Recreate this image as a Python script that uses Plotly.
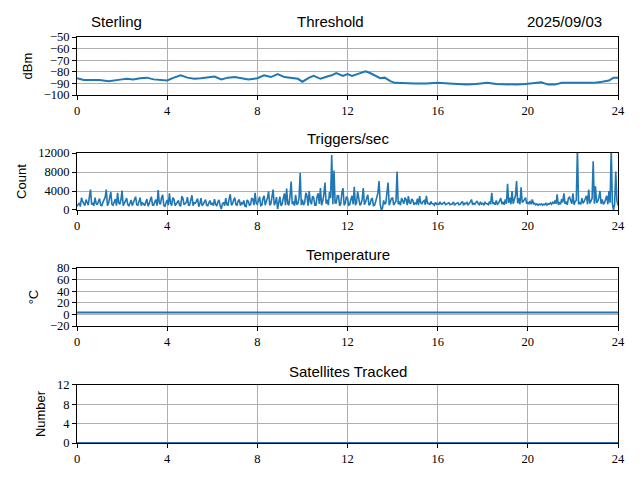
import plotly.graph_objects as go
from plotly.subplots import make_subplots

# --- data (hours of the day) ---
thr_hours = [0, 0.3, 0.6, 1.0, 1.4, 1.7, 2.0, 2.2, 2.5, 2.8, 3.1, 3.4, 3.7, 4.0,
             4.3, 4.6, 4.9, 5.2, 5.5, 5.8, 6.1, 6.4, 6.7, 7.0, 7.3, 7.6, 8.0,
             8.3, 8.6, 8.9, 9.2, 9.5, 9.8, 10.0, 10.3, 10.5, 10.8, 11.1, 11.3,
             11.5, 11.8, 12.0, 12.2, 12.5, 12.8, 13.0, 13.2, 13.45, 13.65, 13.9,
             14.1, 14.5, 15.0, 15.5, 16.0, 16.5, 17.0, 17.3, 17.7, 18.2, 18.6,
             19.1, 19.5, 19.9, 20.3, 20.6, 20.9, 21.2, 21.5, 22.0, 22.5, 22.9,
             23.3, 23.6, 23.8, 24.0]
thr_dbm = [-85.5, -87, -87, -87, -88, -87.5, -86.5, -86, -86.5, -85.5, -85,
           -86.5, -87, -87.5, -85, -83, -85, -86, -85.5, -84.5, -84, -86.5, -85,
           -84.5, -85.5, -86.5, -85.5, -83, -84.5, -82, -84.5, -85.5, -86, -88.5,
           -85, -83.5, -86, -84, -83, -81, -83.5, -82, -83.5, -81.5, -79.5, -81,
           -83, -85.5, -85, -88, -89.5, -90, -90, -90, -89.5, -90, -90.5, -91,
           -90.5, -89.5, -90.5, -91, -91, -90.5, -89.5, -89, -91, -91, -89.5,
           -89.5, -89, -89.5, -88.5, -87.5, -85, -85]

# triggers: samples on the tenth of an hour, plus the samples between them
trig_count = [
    800, 1500, 2600, 1200, 2200, 1000, 4300, 1500, 2600, 1100,
    2400, 900, 2000, 4300, 1400, 3800, 1000, 2300, 3600, 1200,
    4100, 1300, 2500, 800, 2100, 1400, 2800, 1000, 2600, 1500,
    900, 2300, 1200, 2800, 1000, 2200, 4200, 1200, 3200, 700,
    2100, 3500, 900, 2300, 1300, 2000, 800, 2400, 1400, 2700,
    1100, 3100, 1500, 1900, 700, 2500, 1200, 2200, 900, 2000,
    1500, 2300, 800, 2100, 200, 1600, 2500, 1000, 3300, 1300,
    2600, 1000, 2200, 1500, 2000, 700, 1800, 1100, 2300, 3600,
    1200, 2800, 1000, 3000, 1600, 3900, 1300, 4300, 1500, 200,
    2800, 1200, 3500, 4500, 1000, 6000, 1800, 3200, 1400, 7800,
    2200, 1500, 3000, 4000, 1200, 2600, 1000, 3500, 4600, 1800,
    5800, 2200, 3800, 11600, 8300, 1500, 3000, 1200, 4600, 1400,
    2500, 1100, 3000, 4900, 1500, 2800, 1300, 4600, 1700, 3200,
    1200, 2500, 1000, 2800, 6100, 0, 2000, 1500, 5800, 1800,
    2600, 1500, 8100, 1800, 2500, 1300, 2200, 2900, 1400, 2000,
    1500, 2400, 2900, 1300, 2000, 3000, 1400, 1800, 1300, 1600,
    1400, 1700, 1200, 1600, 1300, 1500, 1200, 1700, 1300, 1500,
    1200, 1800, 1400, 1600, 1300, 2200, 1400, 1600, 1300, 1700,
    1400, 1600, 1300, 1800, 3600, 1500, 2000, 1400, 2500, 1700,
    2200, 5500, 2600, 4000, 2000, 6100, 2500, 4800, 1800, 2600,
    1600, 1900, 2200, 1400, 1300, 1200, 1300, 1200, 1400, 1300,
    1500, 1600, 2000, 3300, 1500, 2300, 3500, 1600, 2500, 1800,
    3500, 1800, 13000, 1500, 2500, 1800, 3000, 4300, 2000, 10300,
    5000, 1800, 4000, 2200, 1500, 3000, 4000, 13000, 0, 8100,
    1000]
trig_count_mid = [
    1200, 700, 1800, 900, 1500, 2800, 1100, 900, 1400, 1800,
    1000, 1600, 2700, 900, 2500, 1200, 1700, 900, 1500, 2200,
    900, 1900, 1200, 1600, 900, 2200, 1100, 1700, 900, 1300,
    1600, 800, 2100, 1000, 1700, 900, 1500, 2600, 1000, 1500,
    1000, 1400, 2600, 900, 1700, 1000, 2900, 1100, 1600, 900,
    2200, 900, 1400, 2400, 1300, 900, 1800, 1000, 1500, 1100,
    900, 1200, 1700, 900, 1300, 900, 1100, 2400, 1000, 2100,
    1100, 1900, 900, 1300, 800, 2100, 1000, 2500, 1000, 1400,
    2000, 900, 2400, 1000, 2600, 1000, 3200, 1000, 2700, 1500,
    900, 2500, 1000, 1300, 2900, 1200, 900, 1100, 2500, 1000,
    1000, 3600, 900, 1700, 2900, 1000, 2800, 1300, 1000, 3300,
    1300, 1000, 2500, 1200, 1500, 3000, 900, 3600, 1000, 2800,
    1000, 2200, 1200, 1000, 3900, 1000, 2200, 1100, 2600, 1000,
    2200, 900, 1800, 3600, 1200, 300, 1200, 3500, 1000, 2400,
    1000, 1800, 1200, 1000, 1600, 2600, 1000, 1500, 2300, 1100,
    1300, 1000, 1500, 1800, 1100, 1400, 1100, 1300, 1000, 1200,
    1100, 1300, 1500, 1100, 1400, 1100, 1300, 1000, 1400, 1100,
    1500, 1000, 1300, 1100, 1700, 1100, 1200, 1900, 1100, 1200,
    1100, 1300, 1100, 1200, 1300, 1100, 1200, 2200, 1200, 1100,
    1300, 1500, 1200, 1300, 3000, 1400, 1200, 1600, 2300, 1300,
    1300, 1200, 1300, 1100, 1000, 1100, 1000, 1100, 1000, 1200,
    1200, 1300, 1300, 1100, 1200, 1600, 1300, 1100, 2700, 1300,
    1100, 2000, 1200, 1200, 1400, 2500, 1200, 1400, 2400, 1300,
    1500, 2600, 1300, 1200, 2500, 1200, 1500, 1400, 1200, 2000]

temp_hours = [0, 0.7, 1.0, 2.0, 3.0, 3.8, 4.5, 5.3, 6.0, 7.2, 8, 10, 12, 14,
              15, 16, 17, 18, 19.2, 20, 22, 24]
temp_c = [3.5, 4.0, 3.5, 3.5, 3.5, 4.0, 4.0, 3.5, 4.0, 3.5, 3.5, 3.5, 3.5, 3.5,
          4.0, 4.0, 4.0, 4.0, 3.5, 3.5, 3.5, 3.5]

sat_hours = [0, 4, 8, 12, 16, 20, 24]
sat_count = [0, 0, 0, 0, 0, 0, 0]

# interleave the two trigger sample lists
trig_hours, trig_vals = [], []
for i, v in enumerate(trig_count):
    trig_hours.append(i / 10)
    trig_vals.append(v)
    if i < len(trig_count_mid):
        trig_hours.append(i / 10 + 0.05)
        trig_vals.append(trig_count_mid[i])

BLUE = "#1f77b4"
SERIF = "Liberation Serif"
SANS = "Liberation Sans"

fig = make_subplots(rows=4, cols=1)
fig.add_trace(go.Scatter(x=thr_hours, y=thr_dbm, mode="lines",
                         line=dict(color=BLUE, width=2)), row=1, col=1)
fig.add_trace(go.Scatter(x=trig_hours, y=trig_vals, mode="lines",
                         line=dict(color=BLUE, width=1.6)), row=2, col=1)
fig.add_trace(go.Scatter(x=temp_hours, y=temp_c, mode="lines",
                         line=dict(color=BLUE, width=2)), row=3, col=1)
fig.add_trace(go.Scatter(x=sat_hours, y=sat_count, mode="lines",
                         line=dict(color=BLUE, width=2)), row=4, col=1)

# plot area is 77..618 x 37..443 px in the window (page body adds 8px)
domains = [[0.857, 1.0], [0.574, 0.714], [0.288, 0.431], [0.0, 0.143]]
yranges = [[-100, -50], [0, 12000], [-20, 80], [0, 12]]
yticks = [list(range(-100, -49, 10)), [0, 4000, 8000, 12000],
          list(range(-20, 81, 20)), [0, 4, 8, 12]]
ytitles = ["dBm", "Count", "°C", "Number"]

axis_style = dict(showline=True, linecolor="black", linewidth=1, mirror=True,
                  ticks="outside", tickcolor="black", ticklen=4,
                  showgrid=True, gridcolor="#b0b0b0", gridwidth=1,
                  zeroline=False, automargin=False,
                  tickfont=dict(family=SERIF, size=12.5, color="black"))

for i in range(4):
    fig.update_xaxes(range=[0, 24], tickvals=list(range(0, 25, 4)),
                     row=i + 1, col=1, **axis_style)
    fig.update_yaxes(range=yranges[i], tickvals=yticks[i], tickformat="d",
                     domain=domains[i], row=i + 1, col=1,
                     title=dict(text=ytitles[i], standoff=8,
                                font=dict(family=SANS, size=13, color="black")),
                     **axis_style)

titles = [("Sterling", 0.022, 1.037, "left"),
          ("Threshold", 0.468, 1.037, "center"),
          ("2025/09/03", 0.974, 1.037, "right"),
          ("Triggers/sec", 0.5, 0.751, "center"),
          ("Temperature", 0.5, 0.4655, "center"),
          ("Satellites Tracked", 0.5, 0.177, "center")]
for text, x, y, anchor in titles:
    fig.add_annotation(text=text, x=x, y=y, xref="paper", yref="paper",
                       xanchor=anchor, yanchor="middle", showarrow=False,
                       font=dict(family=SANS, size=15, color="black"))

fig.update_layout(width=640, height=480, showlegend=False,
                  paper_bgcolor="white", plot_bgcolor="white",
                  margin=dict(l=69, r=30, t=29, b=45))

fig.write_html("out.html")
